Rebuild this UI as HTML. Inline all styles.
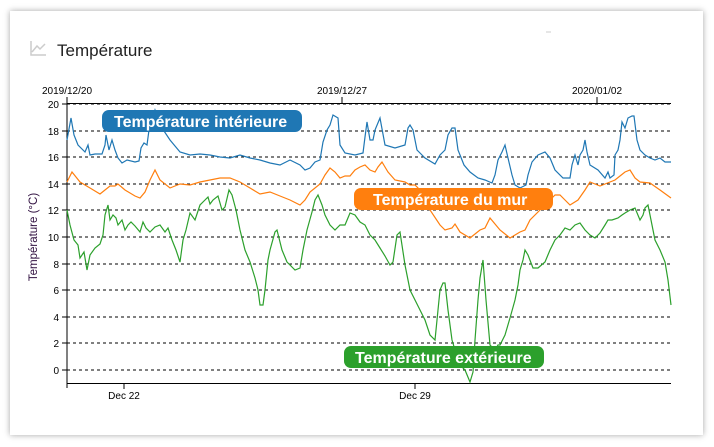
<!DOCTYPE html>
<html><head><style>
body{margin:0;background:#fff;width:714px;height:447px;overflow:hidden;font-family:"Liberation Sans",sans-serif}
.card{position:absolute;left:10px;top:11px;width:693px;height:424px;background:#fff;box-shadow:0 0 6px rgba(0,0,0,.35)}
</style></head><body>
<div class="card"></div>
<svg width="714" height="447" style="position:absolute;left:0;top:0" font-family="Liberation Sans, sans-serif">
<path d="M31,41 V55 H46 M32,52 L37,46 L40,49 L45,44" fill="none" stroke="#ccc" stroke-width="1.5"/>
<text x="57" y="56" font-size="17" fill="#222">Température</text>
<line x1="546" y1="32" x2="551" y2="32" stroke="#ccc"/>
<g stroke="#000" stroke-dasharray="3,3" stroke-width="1">
<line x1="67" y1="104" x2="671" y2="104"/><line x1="67" y1="131" x2="671" y2="131"/><line x1="67" y1="157" x2="671" y2="157"/><line x1="67" y1="184" x2="671" y2="184"/><line x1="67" y1="210" x2="671" y2="210"/><line x1="67" y1="237" x2="671" y2="237"/><line x1="67" y1="264" x2="671" y2="264"/><line x1="67" y1="290" x2="671" y2="290"/><line x1="67" y1="317" x2="671" y2="317"/><line x1="67" y1="343" x2="671" y2="343"/><line x1="67" y1="370" x2="671" y2="370"/>
</g>
<g stroke="#000" fill="none">
<path d="M67,97 V388 M67,383.5 H671 M67,103.5 H671 M124,383 V389 M415,383 V389 M342,97 V103 M597,97 V103"/>
<path d="M62,104H67M62,131H67M62,157H67M62,184H67M62,210H67M62,237H67M62,264H67M62,290H67M62,317H67M62,343H67M62,370H67"/>
</g>
<g font-size="10" fill="#000" text-anchor="end">
<text x="59" y="108">20</text><text x="59" y="135">18</text><text x="59" y="161">16</text><text x="59" y="188">14</text><text x="59" y="214">12</text><text x="59" y="241">10</text><text x="59" y="268">8</text><text x="59" y="294">6</text><text x="59" y="321">4</text><text x="59" y="347">2</text><text x="59" y="374">0</text>
</g>
<g font-size="10" fill="#000" text-anchor="middle">
<text x="67" y="94">2019/12/20</text><text x="342" y="94">2019/12/27</text><text x="597" y="94">2020/01/02</text>
<text x="124" y="399">Dec 22</text><text x="415" y="399">Dec 29</text>
</g>
<text transform="translate(37,237) rotate(-90)" font-size="11.5" fill="#301040" text-anchor="middle">Température (°C)</text>
<polyline fill="none" stroke="#1f77b4" stroke-width="1.2" points="67,140 71,118 74,135 78,145 85,152 88,145 90,155 95,154 102,154 105,145 106,135 109,150 112,140 115,150 118,158 122,163 127,160 135,162 139,161 141,148 144,143 147,145 149,130 155,110 160,125 170,140 180,152 190,155 200,154 210,155 220,157 230,158 240,155 250,158 260,160 270,163 280,165 290,160 300,165 305,170 310,168 315,162 320,160 323,142 327,130 330,125 333,115 338,118 340,145 345,153 355,155 363,153 365,137 367,122 370,140 373,140 375,130 380,118 385,145 395,148 405,145 408,128 410,125 413,130 417,150 425,158 435,164 440,155 445,150 448,135 452,128 455,128 458,150 464,165 470,172 478,178 485,180 492,183 495,175 498,160 502,152 505,145 508,158 512,175 515,185 520,188 526,185 528,175 532,162 538,155 545,152 550,158 555,170 563,178 570,178 572,165 575,155 578,165 580,155 583,150 585,140 587,152 590,165 598,170 605,178 608,172 610,178 614,175 615,155 618,150 620,140 622,122 625,128 628,118 632,116 634,116 637,140 640,150 645,155 650,158 655,160 660,158 665,162 671,162"/>
<polyline fill="none" stroke="#ff7f0e" stroke-width="1.2" points="67,182 72,172 80,182 90,188 100,194 105,190 110,186 115,186 118,184 125,190 135,196 140,198 145,192 150,180 155,170 160,180 170,188 180,184 190,185 200,182 210,180 220,178 230,178 240,182 250,188 260,194 270,192 280,196 290,200 300,205 305,200 310,192 320,184 325,175 330,168 335,172 340,178 345,176 350,176 355,170 360,167 365,165 370,170 375,172 378,167 382,162 388,172 395,180 405,182 410,185 415,185 420,190 425,200 430,210 440,225 445,230 452,228 455,224 460,232 470,238 475,234 480,230 485,228 490,218 500,230 510,238 520,232 525,230 530,220 540,210 545,204 550,200 555,195 560,195 565,200 570,205 578,200 585,190 590,182 595,184 600,186 605,184 610,182 615,180 620,176 625,172 630,170 635,178 640,182 650,183 660,190 671,198"/>
<polyline fill="none" stroke="#2ca02c" stroke-width="1.2" points="67,210 70,225 74,240 78,245 80,258 84,252 87,270 90,255 95,248 100,244 103,235 105,215 108,205 110,220 113,215 116,218 118,225 122,220 125,230 128,225 131,222 135,226 140,232 143,222 146,228 150,232 155,227 160,225 165,232 168,228 172,240 176,250 180,262 183,240 186,230 190,213 195,220 200,205 205,200 208,197 210,204 213,200 218,196 222,210 225,207 229,190 232,195 236,210 240,230 245,250 250,262 255,278 258,290 260,305 263,305 265,290 268,260 270,250 275,232 277,230 282,250 287,262 290,265 295,270 300,268 303,250 307,230 312,212 315,200 318,195 322,205 325,215 330,225 335,230 340,225 345,225 350,213 355,215 360,222 365,225 370,235 375,240 380,248 385,256 390,265 393,262 397,235 400,232 405,265 410,290 415,300 420,310 425,320 430,335 435,340 438,310 440,290 443,283 445,283 448,310 452,340 455,350 460,365 465,370 470,382 473,372 475,340 478,300 480,278 483,260 486,300 490,345 495,350 498,345 500,345 505,335 510,318 515,300 518,285 520,270 523,260 525,250 528,255 533,268 538,268 545,262 550,250 555,240 560,235 565,228 570,230 575,225 580,223 585,230 590,235 595,238 600,233 605,225 608,220 612,220 618,218 622,215 625,213 630,210 635,208 640,220 643,215 645,208 648,205 650,215 655,240 660,250 665,262 668,280 671,305"/>
<g font-size="16" font-weight="bold" fill="#fff">
<rect x="102" y="110" width="200" height="22" rx="7" fill="#1f77b4"/><text x="114" y="127">Température intérieure</text>
<rect x="354" y="188" width="199" height="22" rx="7" fill="#ff7f0e"/><text x="373" y="205">Température du mur</text>
<rect x="344" y="346" width="200" height="22" rx="7" fill="#2ca02c"/><text x="355" y="363">Température extérieure</text>
</g>
</svg>
</body></html>
